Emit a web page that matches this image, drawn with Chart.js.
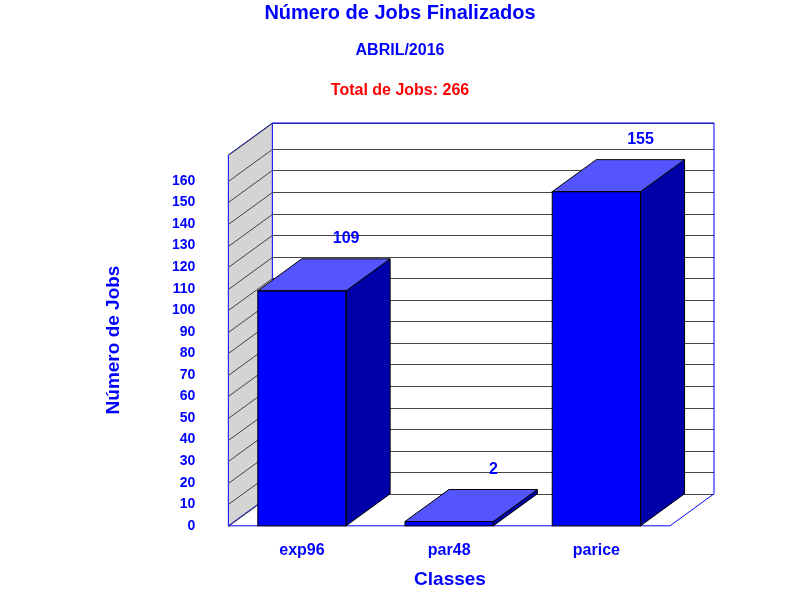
<!DOCTYPE html>
<html>
<head>
<meta charset="utf-8">
<script src="https://cdn.jsdelivr.net/npm/chart.js@4"></script>
<style>
  body { margin: 0; background: #fff; }
  #wrap { width: 800px; height: 600px; }
</style>
</head>
<body>
<div id="wrap"><canvas id="c"></canvas></div>
<script>
// dados do grafico
const classes = ['exp96', 'par48', 'parice']
const jobs = [109, 2, 155]
const titulo = 'Número de Jobs Finalizados'
const periodo = 'ABRIL/2016'
const total = 'Total de Jobs: 266'

const DX = 44, DY = -32
const FONT = 'bold 16px "Liberation Sans", Arial, sans-serif'

// paredes e grade 3D
const wall3d = {
  id: 'wall3d',
  beforeDatasetsDraw(chart) {
    const { ctx, chartArea: a, scales: { y } } = chart
    ctx.save()
    // parede esquerda
    ctx.fillStyle = '#d4d4d4'
    ctx.beginPath()
    ctx.moveTo(a.left, a.bottom); ctx.lineTo(a.left + DX, a.bottom + DY)
    ctx.lineTo(a.left + DX, a.top + DY); ctx.lineTo(a.left, a.top)
    ctx.closePath(); ctx.fill()
    ctx.strokeStyle = '#0000ff'; ctx.lineWidth = 1; ctx.stroke()
    // grade
    ctx.strokeStyle = '#444'
    y.ticks.forEach(t => {
      const py = Math.round(y.getPixelForValue(t.value)) + 0.5
      ctx.beginPath()
      ctx.moveTo(a.left, py); ctx.lineTo(a.left + DX, py + DY)
      ctx.lineTo(a.right + DX, py + DY)
      ctx.stroke()
    })
    // borda do fundo
    ctx.strokeStyle = '#0000ff'
    ctx.beginPath()
    ctx.moveTo(a.left + DX, a.top + DY); ctx.lineTo(a.right + DX, a.top + DY)
    ctx.lineTo(a.right + DX, a.bottom + DY); ctx.lineTo(a.right, a.bottom)
    ctx.lineTo(a.left, a.bottom)
    ctx.stroke()
    ctx.restore()
  },
  afterDatasetsDraw(chart) {
    const { ctx } = chart
    const meta = chart.getDatasetMeta(0)
    ctx.save()
    meta.data.forEach((bar, i) => {
      const l = bar.x - bar.width / 2, r = bar.x + bar.width / 2
      const top = bar.y, base = bar.base
      ctx.strokeStyle = '#000'; ctx.lineWidth = 1
      // lado
      ctx.fillStyle = '#0000a8'
      ctx.beginPath()
      ctx.moveTo(r, top); ctx.lineTo(r + DX, top + DY); ctx.lineTo(r + DX, base + DY); ctx.lineTo(r, base)
      ctx.closePath(); ctx.fill(); ctx.stroke()
      // topo
      ctx.fillStyle = '#5555ff'
      ctx.beginPath()
      ctx.moveTo(l, top); ctx.lineTo(l + DX, top + DY); ctx.lineTo(r + DX, top + DY); ctx.lineTo(r, top)
      ctx.closePath(); ctx.fill(); ctx.stroke()
      // frente
      ctx.strokeRect(l, top, r - l, base - top)
      // valor
      ctx.fillStyle = '#0000ff'; ctx.font = FONT
      ctx.textAlign = 'center'; ctx.textBaseline = 'middle'
      ctx.fillText(jobs[i], r, top + DY - 20)
    })
    // textos
    ctx.textAlign = 'center'; ctx.textBaseline = 'middle'
    ctx.fillStyle = '#0000ff'
    ctx.font = 'bold 20px "Liberation Sans", Arial, sans-serif'
    ctx.fillText(titulo, 400, 13)
    ctx.font = FONT
    ctx.fillText(periodo, 400, 51)
    ctx.fillStyle = '#ff0000'
    ctx.fillText(total, 400, 91)
    ctx.fillStyle = '#0000ff'
    ctx.font = 'bold 19px "Liberation Sans", Arial, sans-serif'
    ctx.fillText('Classes', 450, 580)
    ctx.translate(114, 340); ctx.rotate(-Math.PI / 2)
    ctx.fillText('Número de Jobs', 0, 0)
    ctx.restore()
  }
}

new Chart(document.getElementById('c'), {
  type: 'bar',
  data: {
    labels: classes,
    datasets: [{ data: jobs, backgroundColor: '#0000ff', barPercentage: 0.6, categoryPercentage: 1 }]
  },
  options: {
    responsive: true,
    maintainAspectRatio: false,
    animation: false,
    layout: { padding: { top: 155, bottom: 25, left: 139, right: 130 } },
    plugins: { legend: { display: false }, tooltip: { enabled: false } },
    scales: {
      x: {
        grid: { display: false, drawTicks: false },
        border: { display: false },
        ticks: { color: '#0000ff', font: { size: 16, weight: 'bold', family: '"Liberation Sans", Arial' }, padding: 15 }
      },
      y: {
        min: 0, max: 172,
        grid: { display: false, drawTicks: false },
        border: { display: false },
        ticks: {
          stepSize: 10, padding: 33, color: '#0000ff', autoSkip: false,
          font: { size: 14, weight: 'bold', family: '"Liberation Sans", Arial' },
          callback: v => v <= 160 ? v : ''
        }
      }
    }
  },
  plugins: [wall3d]
})
</script>
</body>
</html>
